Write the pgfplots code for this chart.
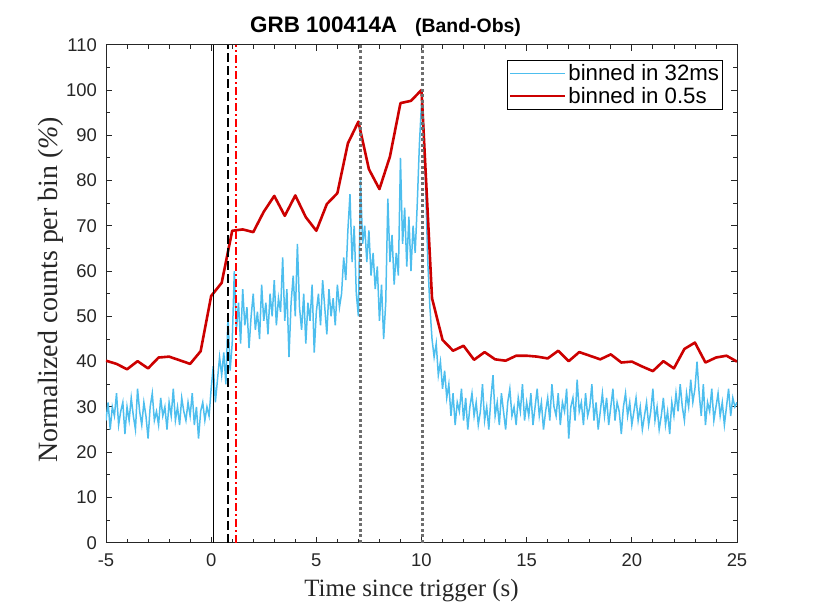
\documentclass[border=0pt]{standalone}
\usepackage{fontspec}
\setmainfont{Liberation Sans}
\newfontfamily\timesfont{Liberation Serif}
\usepackage{pgfplots}
\pgfplotsset{compat=1.18}
\definecolor{mblue}{RGB}{77,190,238}
\definecolor{mred}{RGB}{204,0,0}
\definecolor{pured}{RGB}{255,0,0}
\definecolor{axgray}{RGB}{38,38,38}
\definecolor{dotgray}{RGB}{110,110,110}
\begin{document}
\begin{tikzpicture}
\begin{axis}[name=ax, scale only axis, width=631bp, height=498bp,
  xmin=-5, xmax=25, ymin=0, ymax=110,
  xtick={-5,0,5,10,15,20,25}, ytick={0,10,...,110},
  minor x tick num=4, minor y tick num=1,
  tick align=inside, major tick length=6bp, minor tick length=4bp,
  axis line style={axgray, line width=0.8bp},
  every tick/.style={axgray, line width=0.8bp},
  tick label style={font=\fontsize{18.5}{20}\selectfont, text=axgray},
  /pgf/number format/assume math mode=true,
  xticklabel style={inner sep=0pt, anchor=north, yshift=-11bp},
  yticklabel style={inner sep=0pt, anchor=east, xshift=-9bp},
  legend style={at={(0.977,0.970)}, anchor=north east, draw=black, line width=0.8bp,
    inner xsep=1bp, inner ysep=3.5bp, font=\fontsize{22.3}{24}\selectfont, row sep=3bp,
    nodes={inner xsep=2bp, inner ysep=1bp}},
  legend cell align=left,
  legend image code/.code={\path (-11bp,0bp) -- (44bp,0bp); \draw[#1] (0bp,0bp) -- (42bp,0bp);},
]
\addplot[mblue, line width=1.5bp] table[row sep=\\] {
x y\\
-5.0 27\\ -4.9 31\\ -4.8 25\\ -4.7 30\\ -4.6 28\\ -4.5 33\\ -4.4 26\\ -4.3 29\\ -4.2 31\\ -4.1 24\\
-4.0 30\\ -3.9 27\\ -3.8 32\\ -3.7 28\\ -3.6 25\\ -3.5 34\\ -3.4 29\\ -3.3 26\\ -3.2 31\\ -3.1 28\\
-3.0 23\\ -2.9 30\\ -2.8 33\\ -2.7 27\\ -2.6 29\\ -2.5 26\\ -2.4 32\\ -2.3 28\\ -2.2 30\\ -2.1 25\\
-2.0 31\\ -1.9 28\\ -1.8 34\\ -1.7 27\\ -1.6 30\\ -1.5 26\\ -1.4 32\\ -1.3 29\\ -1.2 27\\ -1.1 31\\
-1.0 28\\ -0.9 33\\ -0.8 26\\ -0.7 30\\ -0.6 23\\ -0.5 29\\ -0.4 31\\ -0.3 27\\ -0.2 30\\ -0.1 28\\
0.0 34\\ 0.1 39\\ 0.2 31\\ 0.3 36\\ 0.4 41\\ 0.5 37\\ 0.6 42\\ 0.7 35\\ 0.8 50\\ 0.9 38\\
1.0 44\\ 1.1 60\\ 1.2 47\\ 1.3 53\\ 1.4 44\\ 1.5 56\\ 1.6 48\\ 1.7 52\\ 1.8 43\\ 1.9 50\\
2.0 55\\ 2.1 47\\ 2.2 51\\ 2.3 45\\ 2.4 57\\ 2.5 49\\ 2.6 53\\ 2.7 46\\ 2.8 55\\ 2.9 50\\
3.0 58\\ 3.1 48\\ 3.2 54\\ 3.3 51\\ 3.4 63\\ 3.5 49\\ 3.6 56\\ 3.7 41\\ 3.8 53\\ 3.9 59\\
4.0 50\\ 4.1 66\\ 4.2 52\\ 4.3 47\\ 4.4 55\\ 4.5 44\\ 4.6 53\\ 4.7 49\\ 4.8 57\\ 4.9 42\\
5.0 51\\ 5.1 55\\ 5.2 48\\ 5.3 58\\ 5.4 52\\ 5.5 46\\ 5.6 56\\ 5.7 50\\ 5.8 54\\ 5.9 48\\
6.0 57\\ 6.1 52\\ 6.2 55\\ 6.3 63\\ 6.4 58\\ 6.5 69\\ 6.6 77\\ 6.7 62\\ 6.8 70\\ 6.9 55\\
7.0 50\\ 7.1 80\\ 7.2 66\\ 7.3 70\\ 7.4 62\\ 7.5 69\\ 7.6 59\\ 7.7 64\\ 7.8 56\\ 7.9 61\\
8.0 49\\ 8.1 57\\ 8.2 45\\ 8.3 53\\ 8.4 76\\ 8.5 62\\ 8.6 68\\ 8.7 57\\ 8.8 64\\ 8.9 59\\
9.0 85\\ 9.1 66\\ 9.2 74\\ 9.3 61\\ 9.4 72\\ 9.5 60\\ 9.6 70\\ 9.7 64\\ 9.8 75\\ 9.9 88\\
10.0 97\\ 10.1 92\\ 10.2 78\\ 10.3 62\\ 10.4 52\\ 10.5 45\\ 10.6 41\\ 10.7 44\\ 10.8 37\\ 10.9 40\\
11.0 34\\ 11.1 38\\ 11.2 32\\ 11.3 35\\ 11.4 28\\ 11.5 33\\ 11.6 26\\ 11.7 31\\ 11.8 29\\ 11.9 34\\
12.0 27\\ 12.1 32\\ 12.2 25\\ 12.3 30\\ 12.4 33\\ 12.5 28\\ 12.6 31\\ 12.7 26\\ 12.8 29\\ 12.9 35\\
13.0 27\\ 13.1 30\\ 13.2 25\\ 13.3 32\\ 13.4 37\\ 13.5 28\\ 13.6 31\\ 13.7 26\\ 13.8 33\\ 13.9 29\\
14.0 25\\ 14.1 31\\ 14.2 34\\ 14.3 28\\ 14.4 30\\ 14.5 26\\ 14.6 32\\ 14.7 29\\ 14.8 35\\ 14.9 27\\
15.0 31\\ 15.1 28\\ 15.2 33\\ 15.3 26\\ 15.4 30\\ 15.5 34\\ 15.6 28\\ 15.7 31\\ 15.8 25\\ 15.9 29\\
16.0 32\\ 16.1 27\\ 16.2 35\\ 16.3 30\\ 16.4 28\\ 16.5 33\\ 16.6 26\\ 16.7 31\\ 16.8 29\\ 16.9 34\\
17.0 23\\ 17.1 30\\ 17.2 32\\ 17.3 27\\ 17.4 36\\ 17.5 29\\ 17.6 31\\ 17.7 26\\ 17.8 33\\ 17.9 28\\
18.0 30\\ 18.1 35\\ 18.2 27\\ 18.3 31\\ 18.4 25\\ 18.5 29\\ 18.6 33\\ 18.7 28\\ 18.8 32\\ 18.9 26\\
19.0 30\\ 19.1 34\\ 19.2 27\\ 19.3 31\\ 19.4 29\\ 19.5 24\\ 19.6 30\\ 19.7 33\\ 19.8 28\\ 19.9 31\\
20.0 26\\ 20.1 29\\ 20.2 32\\ 20.3 27\\ 20.4 30\\ 20.5 25\\ 20.6 28\\ 20.7 31\\ 20.8 26\\ 20.9 29\\
21.0 34\\ 21.1 27\\ 21.2 30\\ 21.3 25\\ 21.4 28\\ 21.5 32\\ 21.6 26\\ 21.7 29\\ 21.8 24\\ 21.9 31\\
22.0 28\\ 22.1 33\\ 22.2 29\\ 22.3 35\\ 22.4 30\\ 22.5 27\\ 22.6 33\\ 22.7 30\\ 22.8 36\\ 22.9 31\\
23.0 34\\ 23.1 40\\ 23.2 33\\ 23.3 28\\ 23.4 35\\ 23.5 26\\ 23.6 31\\ 23.7 29\\ 23.8 34\\ 23.9 27\\
24.0 30\\ 24.1 33\\ 24.2 28\\ 24.3 31\\ 24.4 26\\ 24.5 30\\ 24.6 34\\ 24.7 28\\ 24.8 32\\ 24.9 30\\
25.0 31\\
};
\addlegendentry{binned in 32ms\hspace{16bp}}
\addplot[mred, line width=2.6bp, line join=round] table[row sep=\\] {
x y\\
-5.0 40.2\\ -4.5 39.5\\ -4.0 38.3\\ -3.5 40.1\\ -3.0 38.5\\ -2.5 40.9\\ -2.0 41.1\\ -1.5 40.3\\
-1.0 39.5\\ -0.5 42.3\\ 0.0 54.5\\ 0.5 57.4\\ 1.0 68.9\\ 1.5 69.2\\ 2.0 68.6\\ 2.5 73.1\\
3.0 76.6\\ 3.5 72.2\\ 4.0 76.7\\ 4.5 71.9\\ 5.0 68.9\\ 5.5 74.8\\ 6.0 77.2\\ 6.5 88.2\\
7.0 93.0\\ 7.5 82.5\\ 8.0 78.1\\ 8.5 85.3\\ 9.0 97.1\\ 9.5 97.6\\ 10.0 100.0\\ 10.5 54.0\\
11.0 44.8\\ 11.5 42.4\\ 12.0 43.5\\ 12.5 40.4\\ 13.0 42.1\\ 13.5 40.5\\ 14.0 40.2\\ 14.5 41.3\\
15.0 41.3\\ 15.5 41.1\\ 16.0 40.7\\ 16.5 42.4\\ 17.0 40.1\\ 17.5 42.1\\ 18.0 41.3\\ 18.5 40.5\\
19.0 41.6\\ 19.5 39.8\\ 20.0 40.0\\ 20.5 38.9\\ 21.0 37.9\\ 21.5 40.1\\ 22.0 38.5\\ 22.5 42.8\\
23.0 44.2\\ 23.5 39.8\\ 24.0 40.9\\ 24.5 41.3\\ 25.0 40.0\\
};
\addlegendentry{binned in 0.5s}
\addplot[black, line width=1.4bp, forget plot] coordinates {(0.1,0) (0.1,110)};
\addplot[black, line width=2bp, dash pattern=on 9bp off 4bp, forget plot] coordinates {(0.78,0) (0.78,110)};
\addplot[pured, line width=1.9bp, dash pattern=on 8bp off 3bp on 2bp off 3bp, forget plot] coordinates {(1.16,0) (1.16,110)};
\addplot[dotgray, line width=3bp, dash pattern=on 3bp off 2.5bp, forget plot] coordinates {(7.1,0) (7.1,110)};
\addplot[dotgray, line width=3bp, dash pattern=on 3bp off 2.5bp, forget plot] coordinates {(10.03,0) (10.03,110)};
\end{axis}
\node[anchor=base west, inner sep=0pt] at ([shift={(144bp,12bp)}]ax.north west)
  {\bfseries\fontsize{22.5}{24}\selectfont GRB 100414A\hspace{0.8em}{\fontsize{19.5}{22}\selectfont (Band-Obs)}};
\node[anchor=base, inner sep=0pt, text=axgray] at ([shift={(-10bp,-54bp)}]ax.south)
  {\timesfont\fontsize{25}{28}\selectfont Time since trigger (s)};
\node[anchor=base, inner sep=0pt, rotate=90, text=axgray] at ([shift={(-48bp,4bp)}]ax.west)
  {\timesfont\fontsize{28}{30}\selectfont Normalized counts per bin (\textit{\%})};
\pgfresetboundingbox
\useasboundingbox ([shift={(-106bp,-67.3bp)}]ax.south west) rectangle ([shift={(77bp,44.7bp)}]ax.north east);
\end{tikzpicture}
\end{document}
